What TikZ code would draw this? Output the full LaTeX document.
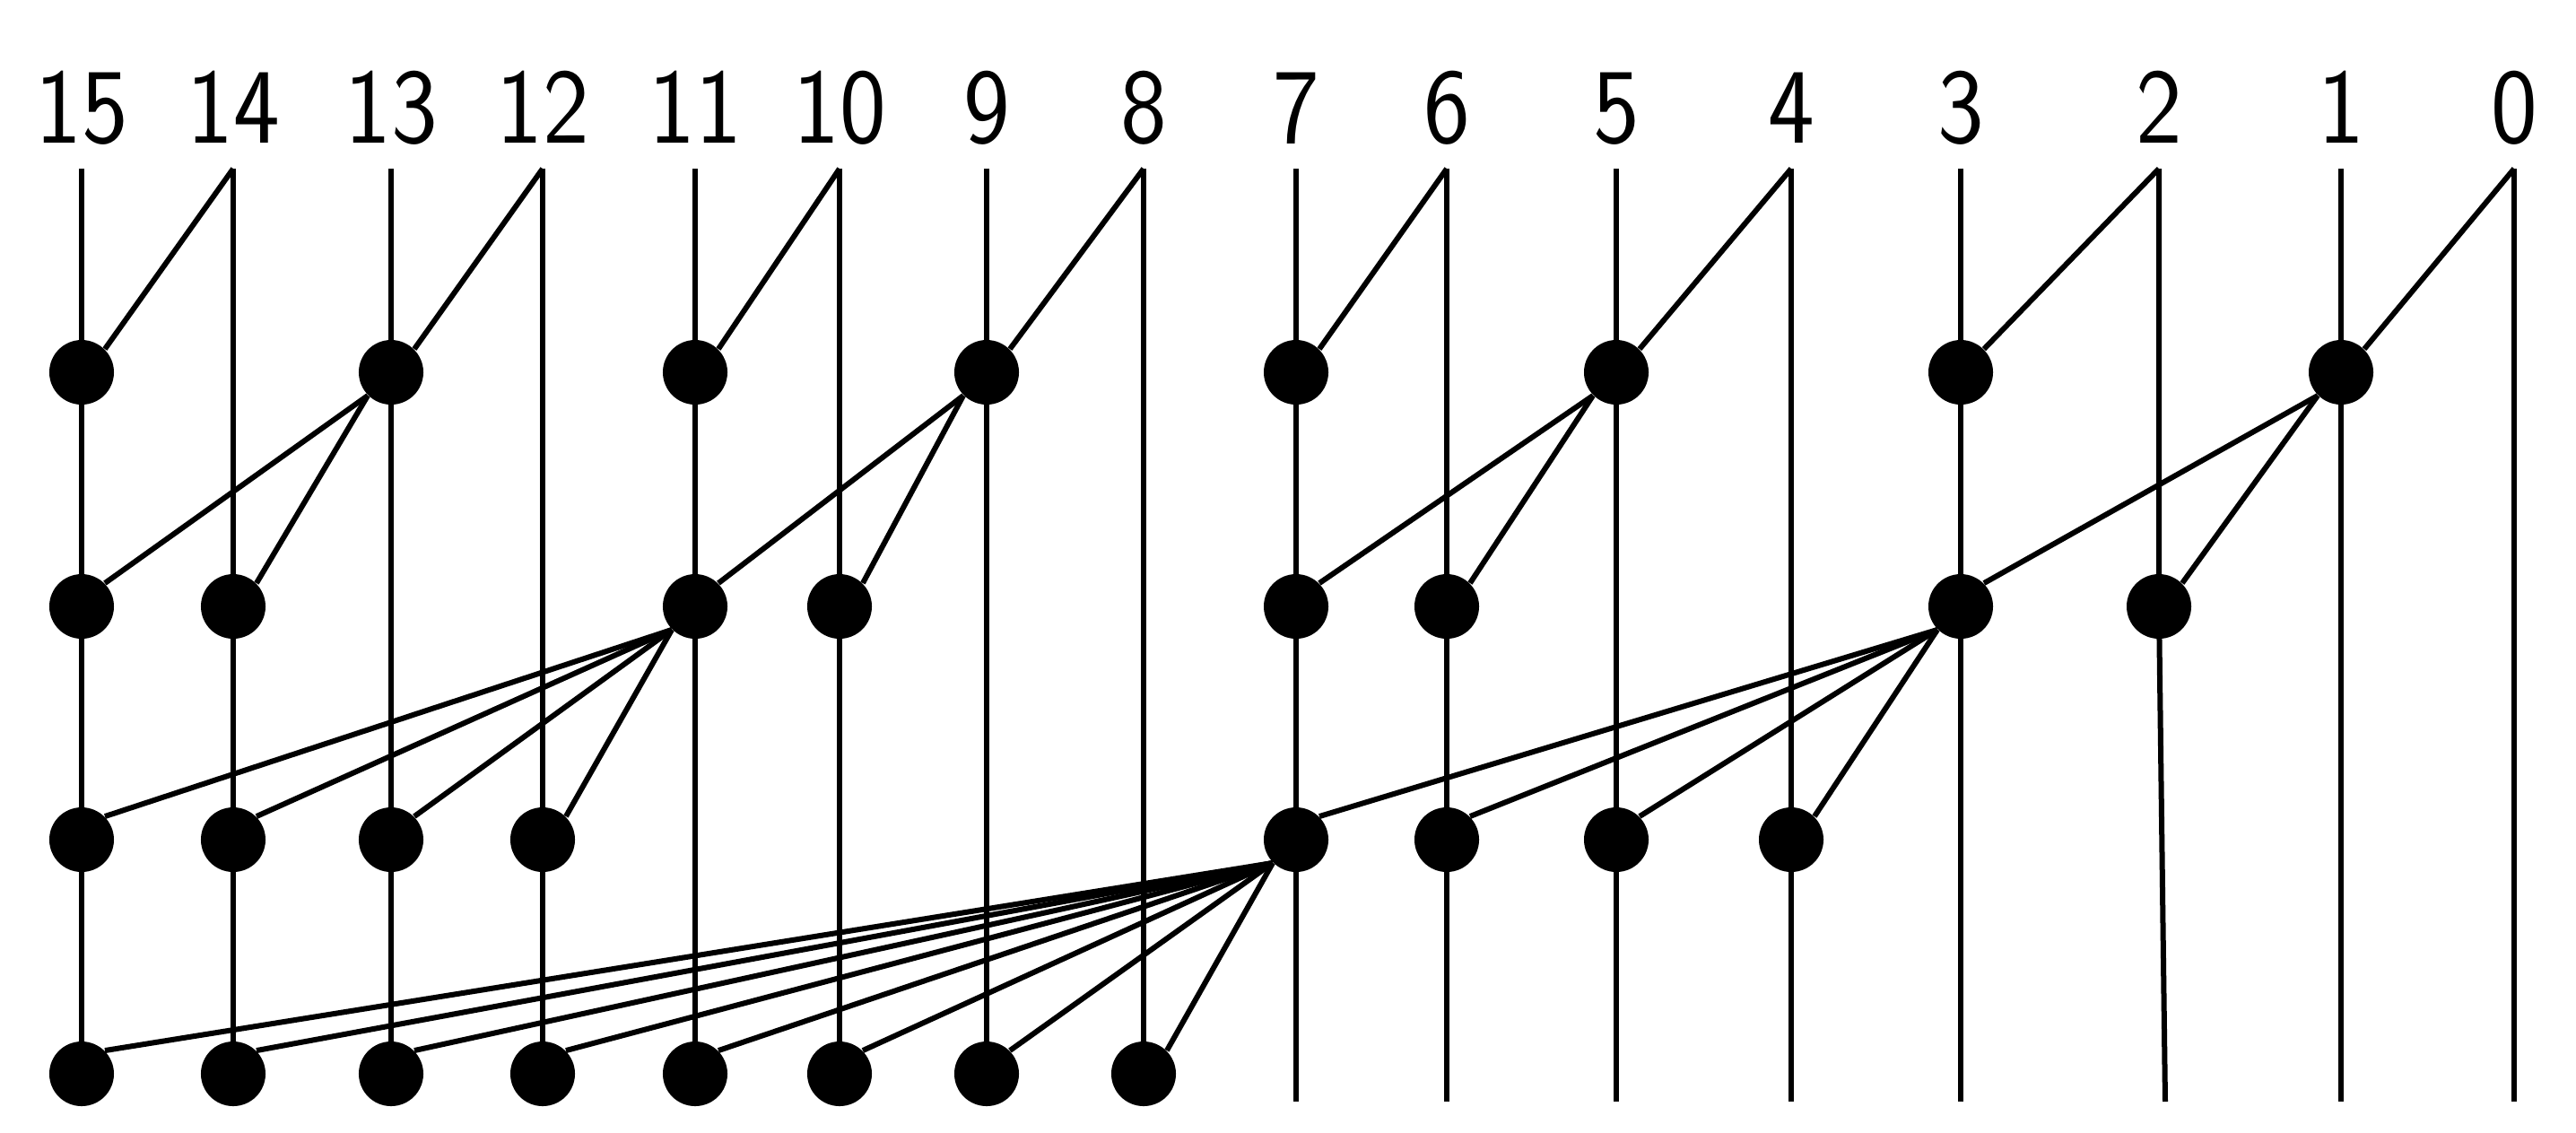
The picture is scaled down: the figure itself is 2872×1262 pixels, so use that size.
\documentclass[tikz,border=0pt]{standalone}
\usetikzlibrary{backgrounds}
\tikzset{
  wire/.style={line width=0.06cm, line cap=butt, black},
  dot/.style={circle, fill=black, draw=none, inner sep=0pt, minimum size=0.72cm},
  lbl/.style={font=\sffamily\fontsize{34}{40}\selectfont, anchor=base, inner sep=0pt}
}
\newcommand{\lbltext}[1]{\scalebox{0.92}[1]{#1}}
\begin{document}
\begin{tikzpicture}[x=0.01cm,y=-0.01cm]
\useasboundingbox (0,0) rectangle (2872,1262);
\foreach \i/\x in {15/91,14/260,13/436,12/605,11/775,10/936,9/1100,8/1275,7/1445,6/1613,5/1802,4/1997,3/2186,2/2407,1/2610,0/2803} {
  \coordinate (t\i) at (\x,188);
  \coordinate (b\i) at (\x,1228);
  \node[lbl] (l\i) at (\x,159) {\lbltext{\i}};
  \foreach \r/\y in {1/415,2/676,3/936,4/1197} { \coordinate (c\i r\r) at (\x,\y); }
}
\coordinate (b2) at (2414,1228);
% dots
\foreach \i in {15,13,11,9,7,5,3,1} { \node[dot] (d\i r1) at (c\i r1) {}; }
\foreach \i in {15,14,11,10,7,6,3,2} { \node[dot] (d\i r2) at (c\i r2) {}; }
\foreach \i in {15,14,13,12,7,6,5,4} { \node[dot] (d\i r3) at (c\i r3) {}; }
\foreach \i in {15,14,13,12,11,10,9,8} { \node[dot] (d\i r4) at (c\i r4) {}; }
\begin{scope}[on background layer]
  % vertical wires
  \foreach \i in {15,14,13,12,11,10,9,8} { \draw[wire] (t\i) -- (d\i r4.center); }
  \foreach \i in {7,6,5,4,3,1,0} { \draw[wire] (t\i) -- (b\i); }
  \draw[wire] (t2) -- (d2r2.center) -- (b2);
  % level 1
  \foreach \i/\j in {15/14,13/12,11/10,9/8,7/6,5/4,3/2,1/0} { \draw[wire] (t\j) -- (d\i r1.north east); }
  % level 2
  \foreach \s/\g in {13/15,13/14,9/11,9/10,5/7,5/6,1/3,1/2} { \draw[wire] (d\s r1.south west) -- (d\g r2.north east); }
  % level 3
  \foreach \s/\g in {11/15,11/14,11/13,11/12,3/7,3/6,3/5,3/4} { \draw[wire] (d\s r2.south west) -- (d\g r3.north east); }
  % level 4
  \foreach \g in {15,14,13,12,11,10,9,8} { \draw[wire] (d7r3.south west) -- (d\g r4.north east); }
\end{scope}
\end{tikzpicture}
\end{document}
